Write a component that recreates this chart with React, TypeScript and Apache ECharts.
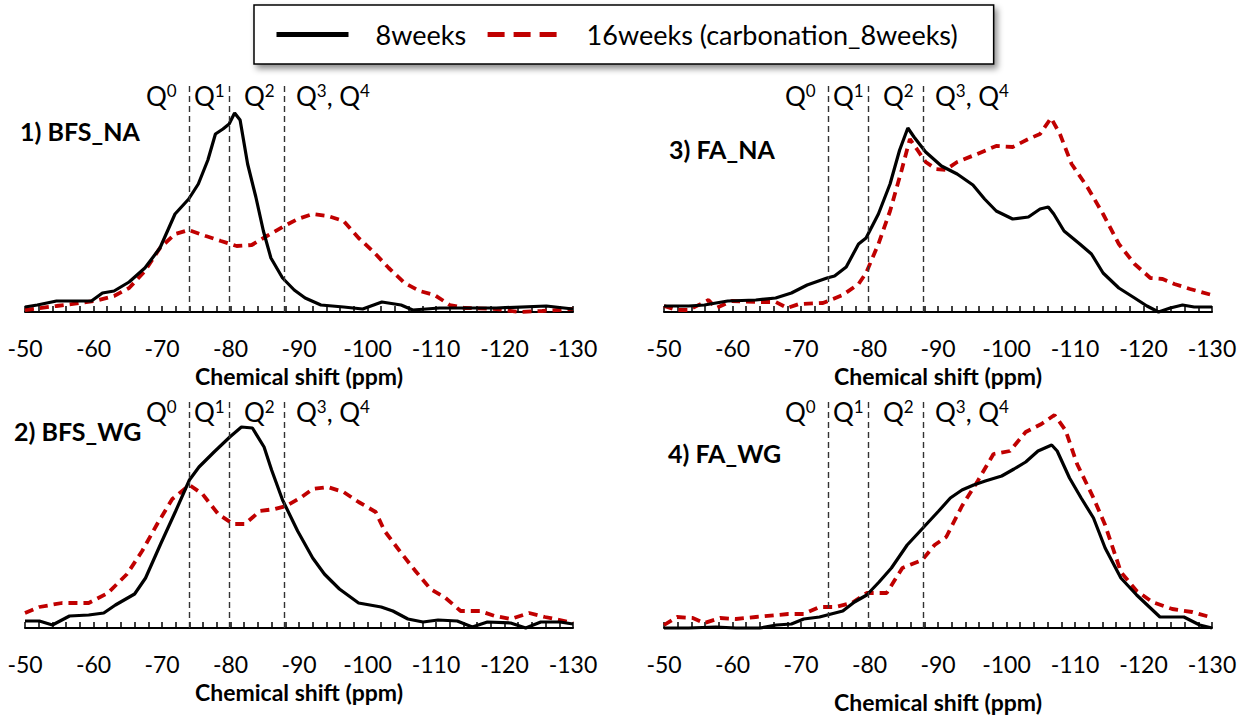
import React, { useEffect, useRef } from "react";
import * as echarts from "echarts";

// Chemical shift (ppm) vs intensity (arbitrary units)
const bfsNa8w = [[-50,5],[-51.8,7],[-54.6,11],[-59.7,11],[-61.3,19],[-63,21],[-65.2,30],[-67.5,44],[-69.7,64],[-71.9,98],[-73.9,113],[-75.3,128],[-76.7,152],[-77.8,178],[-78.9,183],[-79.8,188],[-80.6,199],[-81.4,192],[-82.5,148],[-83.7,115],[-84.8,81],[-85.9,54],[-87.6,34],[-89.3,22],[-90.9,14],[-93.2,7],[-96.5,5],[-99.3,3],[-102.1,10],[-104.9,7],[-106.6,2],[-110.5,4],[-118.8,4],[-126.1,6],[-130,3]];
const bfsNa16w = [[-50,2],[-54.6,6],[-60.2,11],[-63,16],[-65.2,24],[-67.5,41],[-69.7,64],[-71.9,78],[-73.9,82],[-76.4,76],[-78.6,71],[-80.9,66],[-83.1,67],[-85.3,76],[-87.6,85],[-89.8,93],[-92,98],[-94.2,96],[-96.5,91],[-98.7,74],[-100.9,60],[-103.1,44],[-105.4,29],[-107.6,21],[-109.8,17],[-112,7],[-114.2,4],[-118.8,3],[-122.1,0],[-125.5,1],[-130,3]];

const bfsWg8w = [[-50,7],[-52.1,7],[-54,3],[-56.5,12],[-59.3,13],[-61.5,15],[-63.2,23],[-66,34],[-67.6,50],[-69.8,84],[-72,117],[-74,148],[-75.4,161],[-77.6,176],[-79.9,191],[-81.6,201],[-83.2,200],[-84.9,181],[-86,158],[-87.6,128],[-89.8,97],[-92,70],[-93.7,54],[-95.9,39],[-98.7,25],[-102,21],[-103.7,17],[-105.9,9],[-108.1,6],[-110.3,8],[-113.1,7],[-115.3,1],[-117.5,6],[-120.9,5],[-123.1,0],[-125.3,6],[-128.1,6],[-130,4]];
const bfsWg16w = [[-50,15],[-52.1,21],[-55.4,25],[-59.3,25],[-62.1,35],[-64.9,54],[-67.1,77],[-69.3,104],[-71.5,129],[-74,143],[-75.9,134],[-78.2,114],[-80.4,104],[-82.1,104],[-84.3,117],[-86.5,119],[-88.1,122],[-90.4,131],[-92,139],[-94.2,141],[-96.5,136],[-98.7,126],[-101.2,116],[-102.5,97],[-104.8,76],[-107,57],[-109.2,39],[-111.4,30],[-113.6,17],[-116.4,17],[-118.6,12],[-120.9,9],[-123.6,15],[-125.9,11],[-128.1,8],[-130,5]];

const faNa8w = [[-50,6],[-53.6,6],[-55.9,7],[-59.3,11],[-63.4,12],[-66.3,14],[-68.6,19],[-70.9,27],[-73.8,34],[-74.9,36],[-76.6,45],[-78.4,68],[-79.5,74],[-81.3,98],[-83,128],[-84.4,162],[-85.6,184],[-86.5,175],[-88.2,160],[-90.5,146],[-92.8,138],[-95.1,127],[-96.8,113],[-98.5,101],[-100.9,93],[-103.2,95],[-104.9,103],[-106.1,105],[-106.9,98],[-108.4,81],[-110.7,68],[-112.4,58],[-114.1,39],[-116.4,24],[-118.7,14],[-120.5,6],[-122.2,0],[-123.9,4],[-125.7,7],[-127.4,5],[-130,5]];
const faNa16w = [[-50,6],[-51.8,2],[-53.6,2],[-56.5,12],[-57.6,4],[-59.9,11],[-63.4,10],[-66.3,10],[-68,4],[-69.7,8],[-73.2,9],[-76.1,17],[-78.4,28],[-79.5,39],[-81.3,68],[-83,101],[-84.7,142],[-85.9,173],[-87.1,161],[-88.2,150],[-89.7,143],[-91.1,142],[-92.8,150],[-95.7,158],[-98.5,166],[-100.9,165],[-103.2,173],[-104.9,178],[-106.5,194],[-107.8,178],[-109.5,148],[-111.8,125],[-114.1,98],[-116.4,68],[-118.7,48],[-121,34],[-122.8,33],[-124.5,28],[-126.8,23],[-130,17]];

const faWg8w = [[-50,0],[-53.6,0],[-57.6,1],[-60.5,0],[-64,0],[-66.4,3],[-68.6,4],[-70.4,9],[-72.7,11],[-74.4,14],[-76.1,17],[-77.8,26],[-79.6,33],[-81.4,46],[-83.2,60],[-85.5,83],[-87.8,100],[-90.1,117],[-91.8,130],[-93.5,138],[-95.2,143],[-96.9,147],[-99.3,152],[-101.1,159],[-102.8,166],[-104.6,177],[-106.6,183],[-107.4,177],[-109.2,150],[-110.9,130],[-112.7,110],[-114.4,80],[-116.7,50],[-119,33],[-122.4,11],[-125.9,11],[-128.2,3],[-130,0]];
const faWg16w = [[-50,3],[-51.9,11],[-54.2,10],[-55.9,5],[-58.2,10],[-60.5,9],[-63.4,11],[-68.1,14],[-70.4,14],[-72.7,21],[-75,21],[-77.4,25],[-79.6,35],[-82.5,35],[-84.8,60],[-87.7,68],[-89.5,83],[-91.2,91],[-93.5,122],[-95.8,147],[-98.1,174],[-100.5,177],[-102.8,196],[-105.1,204],[-107,213],[-108.6,198],[-110.3,164],[-112.7,130],[-114.4,103],[-116.7,56],[-119,37],[-121.3,26],[-124.2,19],[-127.1,16],[-129.7,11]];

// Q-site boundaries (ppm)
const qBoundaries = [-74, -79.8, -87.8];
const panelTitles = ["1) BFS_NA", "2) BFS_WG", "3) FA_NA", "4) FA_WG"];
const seriesNames = ["8weeks", "16weeks (carbonation_8weeks)"];
const axisTitle = "Chemical shift (ppm)";

const panels = [
  { data8: bfsNa8w, data16: bfsNa16w, left: 25, baseline: 312, nameGap: 52, qTop: 227, title: { x: 20, y: 134 } },
  { data8: bfsWg8w, data16: bfsWg16w, left: 25, baseline: 628, nameGap: 52, qTop: 228, title: { x: 14, y: 434 } },
  { data8: faNa8w, data16: faNa16w, left: 664, baseline: 312, nameGap: 52, qTop: 227, title: { x: 669, y: 152 } },
  { data8: faWg8w, data16: faWg16w, left: 664, baseline: 628, nameGap: 62, qTop: 228, title: { x: 668, y: 456 } },
];

const FONT = "Lato";
const RED = "#C00000";

export default function App() {
  const ref = useRef<HTMLDivElement>(null);
  useEffect(() => {
    if (!ref.current) return;
    const chart = echarts.init(ref.current, undefined, { renderer: "svg" });
    const H = 230;
    const grids = panels.map((p) => ({ left: p.left, width: 548, top: p.baseline - H, height: H }));
    const xAxes = panels.map((p, i) => ({
      type: "value",
      gridIndex: i,
      min: -130,
      max: -50,
      interval: 10,
      inverse: true,
      axisLine: { onZero: false, lineStyle: { color: "#000", width: 2 } },
      axisTick: { show: true, inside: true, length: 6, lineStyle: { color: "#000", width: 1.5 } },
      minorTick: { show: true, splitNumber: 5, length: 6, lineStyle: { color: "#000", width: 1.5 } },
      axisLabel: { margin: 24, fontFamily: FONT, fontSize: 23, lineHeight: 24, color: "#000" },
      splitLine: { show: false },
      name: axisTitle,
      nameLocation: "middle",
      nameGap: p.nameGap,
      nameTextStyle: { fontFamily: FONT, fontWeight: "bold", fontSize: 23, lineHeight: 24, color: "#000" },
    }));
    const yAxes = panels.map((_, i) => ({ type: "value", gridIndex: i, min: 0, max: H, show: false }));
    const series: any[] = [];
    panels.forEach((p, i) => {
      series.push({
        name: seriesNames[0],
        type: "line",
        xAxisIndex: i,
        yAxisIndex: i,
        data: p.data8,
        symbol: "none",
        clip: false,
        z: 3,
        lineStyle: { color: "#000", width: 3.2 },
        itemStyle: { color: "#000" },
        markLine: {
          silent: true,
          symbol: "none",
          label: { show: false },
          lineStyle: { color: "#333", width: 1.4, type: [6, 4] },
          data: qBoundaries.map((q) => [{ coord: [q, 0] }, { coord: [q, p.qTop] }]),
        },
      });
      series.push({
        name: seriesNames[1],
        type: "line",
        xAxisIndex: i,
        yAxisIndex: i,
        data: p.data16,
        symbol: "none",
        clip: false,
        z: 2,
        lineStyle: { color: RED, width: 3.8, type: [9, 6] },
        itemStyle: { color: RED },
      });
    });

    const rich = {
      q: { fontFamily: FONT, fontSize: 26, lineHeight: 28, fill: "#000" },
      s: { fontFamily: FONT, fontSize: 17, lineHeight: 17, verticalAlign: "top", fill: "#000" },
    };
    const qTexts = ["{q|Q}{s|0}", "{q|Q}{s|1}", "{q|Q}{s|2}", "{q|Q}{s|3}{q|, Q}{s|4}"];
    const qOffsets = [121, 169, 219, 271];
    const graphics: any[] = [];
    panels.forEach((p, i) => {
      graphics.push({
        type: "text",
        left: p.title.x,
        top: p.title.y - 16,
        style: { text: panelTitles[i], fontFamily: FONT, fontWeight: "bold", fontSize: 25, fill: "#000" },
      });
      qTexts.forEach((t, k) => {
        graphics.push({
          type: "text",
          x: p.left + qOffsets[k],
          y: p.baseline - 230,
          style: { text: t, rich, fill: "#000", textVerticalAlign: "top" },
        });
      });
    });

    chart.setOption({
      animation: false,
      backgroundColor: "#fff",
      legend: {
        left: 254,
        top: 5,
        itemWidth: 72,
        itemHeight: 20,
        itemGap: 19,
        padding: [16, 36, 16, 20],
        borderColor: "#000",
        borderWidth: 1.5,
        backgroundColor: "#fff",
        shadowColor: "rgba(0,0,0,0.45)",
        shadowBlur: 6,
        shadowOffsetX: 3,
        shadowOffsetY: 4,
        itemStyle: { opacity: 0 },
        textStyle: { fontFamily: FONT, fontSize: 27, color: "#000", padding: [0, 0, 0, 22] },
        data: [
          { name: seriesNames[0], lineStyle: { width: 5 } },
          { name: seriesNames[1], lineStyle: { width: 5, type: [17, 9] } },
        ],
      },
      grid: grids,
      xAxis: xAxes,
      yAxis: yAxes,
      series,
      graphic: graphics,
    });
    return () => chart.dispose();
  }, []);
  return <div ref={ref} style={{ position: "fixed", left: 0, top: 0, width: 1249, height: 716 }} />;
}
